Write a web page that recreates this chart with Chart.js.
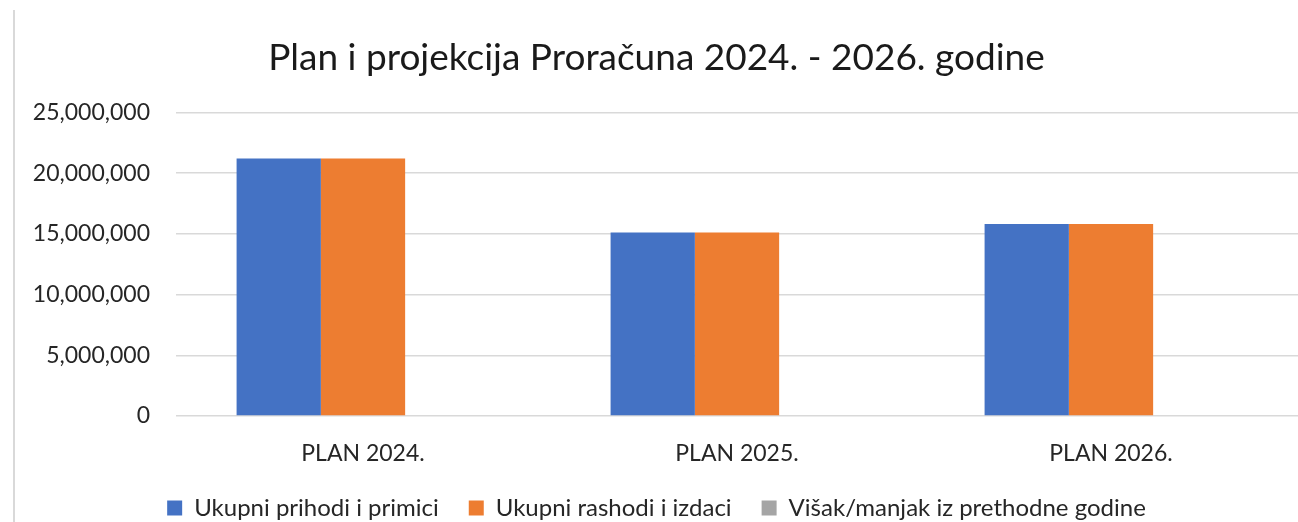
<!DOCTYPE html>
<html>
<head>
<meta charset="utf-8">
<script src="https://cdn.jsdelivr.net/npm/chart.js@4"></script>
<style>
  html, body { margin: 0; padding: 0; background: #fff; }
  #wrap {
    position: absolute; left: 13px; top: 10px;
    width: 1283px; height: 512px;
    border-left: 2px solid #d9d9d9;
  }
</style>
</head>
<body>
<div id="wrap"><canvas id="budgetChart"></canvas></div>
<script>
// --- Data ---
const categories = ['PLAN 2024.', 'PLAN 2025.', 'PLAN 2026.'];
const prihodi = [21200000, 15120000, 15800000];
const rashodi = [21200000, 15120000, 15800000];
const visak = [0, 0, 0];
const seriesNames = ['Ukupni prihodi i primici', 'Ukupni rashodi i izdaci', 'Višak/manjak iz prethodne godine'];
const yTicks = [0, 5000000, 10000000, 15000000, 20000000, 25000000];

const FONT = 'Lato';

// --- Chart Config ---
const ctx = document.getElementById('budgetChart').getContext('2d');
new Chart(ctx, {
    type: 'bar',
    data: {
        labels: categories,
        datasets: [
            { label: seriesNames[0], data: prihodi, backgroundColor: '#4472c4' },
            { label: seriesNames[1], data: rashodi, backgroundColor: '#ed7d31' },
            { label: seriesNames[2], data: visak, backgroundColor: '#a5a5a5' }
        ]
    },
    options: {
        responsive: true,
        maintainAspectRatio: false,
        animation: false,
        layout: { padding: { top: 8, right: 0, bottom: 0, left: 0 } },
        datasets: {
            bar: { categoryPercentage: 0.676, barPercentage: 1.0 }
        },
        plugins: {
            title: {
                display: true,
                text: 'Plan i projekcija Proračuna 2024. - 2026. godine',
                color: '#1a1a1a',
                font: { family: FONT, size: 37, weight: 'normal' },
                padding: { top: 18, bottom: 32 }
            },
            legend: {
                position: 'bottom',
                maxHeight: 56,
                labels: {
                    color: '#262626',
                    font: { family: FONT, size: 24 },
                    boxWidth: 15,
                    boxHeight: 15,
                    padding: 30
                }
            },
            tooltip: { enabled: false }
        },
        scales: {
            y: {
                min: 0,
                max: 25000000,
                afterBuildTicks: axis => { axis.ticks = yTicks.map(v => ({ value: v })); },
                afterFit: axis => { axis.width = 161; },
                border: { display: false },
                grid: { color: '#d9d9d9', lineWidth: 1.5, drawTicks: false },
                ticks: {
                    color: '#262626',
                    padding: 26,
                    font: { family: FONT, size: 23 },
                    callback: v => v.toLocaleString('en-US')
                }
            },
            x: {
                afterFit: axis => { axis.height = 50; },
                border: { display: false },
                grid: { display: false },
                ticks: {
                    color: '#262626',
                    padding: 16,
                    font: { family: FONT, size: 23 }
                }
            }
        }
    }
});
</script>
</body>
</html>
